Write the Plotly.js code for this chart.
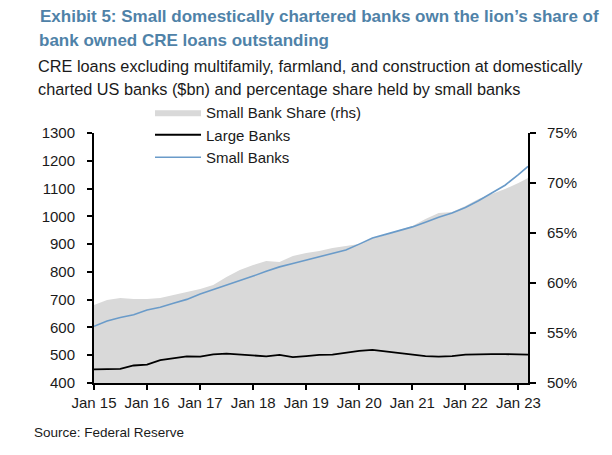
<!DOCTYPE html>
<html>
<head>
<meta charset="utf-8">
<script src="https://cdn.plot.ly/plotly-3.0.1.min.js"></script>
<style>
html,body{margin:0;padding:0;background:#fff;}
#chart{width:612px;height:455px;}
</style>
</head>
<body>
<div id="chart"></div>
<script>
// Quarterly observation dates (Jan 2015 - Mar 2023)
const dates = [
  '2015-01-01','2015-04-01','2015-07-01','2015-10-01',
  '2016-01-01','2016-04-01','2016-07-01','2016-10-01',
  '2017-01-01','2017-04-01','2017-07-01','2017-10-01',
  '2018-01-01','2018-04-01','2018-07-01','2018-10-01',
  '2019-01-01','2019-04-01','2019-07-01','2019-10-01',
  '2020-01-01','2020-04-01','2020-07-01','2020-10-01',
  '2021-01-01','2021-04-01','2021-07-01','2021-10-01',
  '2022-01-01','2022-04-01','2022-07-01','2022-10-01',
  '2023-01-01','2023-03-08'
];
// Small bank share of CRE loans (%; rhs)
const smallShare = [
  57.8,58.3,58.5,58.4, 58.4,58.5,58.8,59.1, 59.4,59.8,60.6,61.3,
  61.8,62.2,62.1,62.7, 63.0,63.2,63.5,63.7, 63.9,64.5,64.8,65.3,
  65.7,66.4,67.0,67.1, 67.7,68.4,68.9,69.4, 70.0,70.5
];
// Large banks CRE loans ($bn)
const largeBanks = [
  449,449,451,463, 466,482,488,496, 495,503,506,502,
  500,496,501,493, 497,501,502,509, 516,519,514,507,
  502,497,495,497, 502,504,504,504, 503,502
];
// Small banks CRE loans ($bn)
const smallBanks = [
  604,623,636,646, 663,673,687,701, 720,736,752,766,
  785,802,818,830, 842,856,866,879, 900,922,935,948,
  962,979,997,1012, 1032,1056,1083,1112, 1150,1180
];
const leftTicks = [400,500,600,700,800,900,1000,1100,1200,1300];
const rightTicks = [50,55,60,65,70,75];

const FONT = '"Liberation Sans", Arial, sans-serif';
const TXT = '#1a1a1a';
const TITLE_COL = '#4f82a8';

const traces = [
  {x: dates, y: smallShare, name: 'Small Bank Share (rhs)', type: 'scatter', mode: 'lines',
   fill: 'tozeroy', fillcolor: '#d9d9d9', line: {width: 0, color: '#d9d9d9'}, yaxis: 'y'},
  {x: dates, y: largeBanks, name: 'Large Banks', type: 'scatter', mode: 'lines',
   line: {color: '#000000', width: 1.8}, yaxis: 'y2'},
  {x: dates, y: smallBanks, name: 'Small Banks', type: 'scatter', mode: 'lines',
   line: {color: '#6a9bc9', width: 1.6}, yaxis: 'y2'}
];

const PW = 434, PH = 250, PT = 133;
function py(pix) { return (PT + PH - pix) / PH; }   // pixel y -> paper y
function px(pix) { return (pix - 94) / PW; }        // pixel x -> paper x

const layout = {
  width: 612, height: 455,
  margin: {l: 94, r: 84, t: 133, b: 72, pad: 0},
  paper_bgcolor: '#ffffff', plot_bgcolor: 'rgba(0,0,0,0)',
  font: {family: FONT, size: 15, color: TXT},
  title: {
    text: '<b>Exhibit 5: Small domestically chartered banks own the lion\u2019s share of</b>',
    font: {family: FONT, size: 17, color: TITLE_COL},
    x: 40/612, xanchor: 'left', xref: 'container',
    y: 1 - 16/455, yanchor: 'middle', yref: 'container'
  },
  showlegend: true,
  legend: {
    x: px(150), xanchor: 'left', y: py(96), yanchor: 'top',
    bgcolor: 'rgba(0,0,0,0)', font: {family: FONT, size: 15, color: TXT},
    tracegroupgap: 0, itemwidth: 46, traceorder: 'normal'
  },
  xaxis: {
    type: 'date', range: ['2015-01-01', '2023-03-08'],
    tickmode: 'linear', tick0: '2015-01-01', dtick: 'M12', tickformat: '%b %y',
    showgrid: false, zeroline: false, showline: true, linecolor: '#000', linewidth: 2,
    ticks: 'outside', ticklen: 5, tickwidth: 2, tickcolor: '#000',
    tickfont: {family: FONT, size: 15, color: TXT}
  },
  yaxis: {
    side: 'right', range: [50, 75], tickvals: rightTicks,
    ticktext: rightTicks.map(v => v + '%'),
    showgrid: false, zeroline: false, showline: true, linecolor: '#000', linewidth: 2,
    ticks: 'outside', ticklen: 6, tickwidth: 2, tickcolor: '#000', ticklabelstandoff: 8,
    tickfont: {family: FONT, size: 15, color: TXT}
  },
  yaxis2: {
    overlaying: 'y', side: 'left', range: [400, 1300], tickvals: leftTicks,
    showgrid: false, zeroline: false, showline: true, linecolor: '#000', linewidth: 2,
    ticks: 'outside', ticklen: 5, tickwidth: 2, tickcolor: '#000', ticklabelstandoff: 9,
    tickfont: {family: FONT, size: 15, color: TXT}
  },
  annotations: [
    {text: '<b>bank owned CRE loans outstanding</b>',
     xref: 'paper', yref: 'paper', x: px(37), y: py(41), xanchor: 'left', yanchor: 'middle',
     showarrow: false, font: {family: FONT, size: 17, color: TITLE_COL}},
    {text: 'CRE loans excluding multifamily, farmland, and construction at domestically',
     xref: 'paper', yref: 'paper', x: px(36), y: py(66), xanchor: 'left', yanchor: 'middle',
     showarrow: false, font: {family: FONT, size: 16.3, color: TXT}},
    {text: 'charted US banks ($bn) and percentage share held by small banks',
     xref: 'paper', yref: 'paper', x: px(36), y: py(89), xanchor: 'left', yanchor: 'middle',
     showarrow: false, font: {family: FONT, size: 16.3, color: TXT}},
    {text: 'Source: Federal Reserve',
     xref: 'paper', yref: 'paper', x: px(32), y: py(432), xanchor: 'left', yanchor: 'middle',
     showarrow: false, font: {family: FONT, size: 13.5, color: TXT}}
  ]
};

Plotly.newPlot('chart', traces, layout, {staticPlot: true, displayModeBar: false});
</script>
</body>
</html>
